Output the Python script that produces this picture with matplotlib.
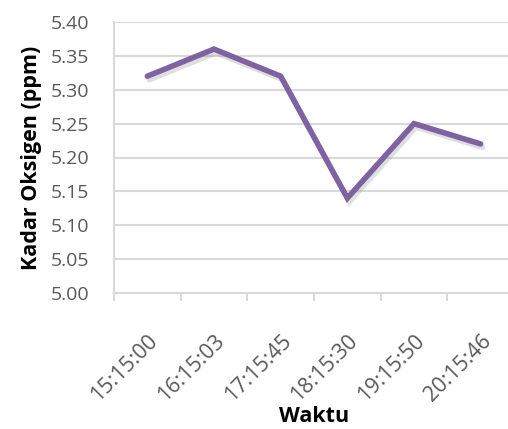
import matplotlib
matplotlib.use("Agg")
import matplotlib.pyplot as plt
import matplotlib.patheffects as pe

# data
waktu = ["15:15:00", "16:15:03", "17:15:45", "18:15:30", "19:15:50", "20:15:46"]
kadar_oksigen = [5.32, 5.36, 5.32, 5.14, 5.25, 5.22]
y_ticks = [5.00, 5.05, 5.10, 5.15, 5.20, 5.25, 5.30, 5.35, 5.40]

plt.rcParams['font.family'] = ['Open Sans', 'DejaVu Sans']

fig = plt.figure(figsize=(5.08, 4.29), dpi=100)
# plot area runs past the right edge, like the cropped original
ax = fig.add_axes([114 / 508, 1 - 293 / 429, 400 / 508, 271 / 429])

x = list(range(len(waktu)))
ax.plot(x, kadar_oksigen, color="#7E62A1", linewidth=4, solid_capstyle="round",
        solid_joinstyle="miter", zorder=3,
        path_effects=[pe.SimpleLineShadow(offset=(1.5, -2.5), shadow_color="gray", alpha=0.25),
                      pe.Normal()])

ax.set_xlim(-0.5, len(waktu) - 0.5)
ax.set_ylim(5.00, 5.40)
ax.set_yticks(y_ticks)
ax.set_yticklabels([f"{v:.2f}" for v in y_ticks])
ax.yaxis.grid(True, color="#D9D9D9", linewidth=1.5)
ax.set_axisbelow(True)

# category boundary ticks on the x axis
ax.set_xticks([i - 0.5 for i in x], minor=True)
ax.set_xticks(x)
ax.set_xticklabels(waktu, rotation=45, ha="right", rotation_mode="anchor")
ax.tick_params(axis="x", which="major", length=0, pad=27, labelsize=15.5, labelcolor="#595959")
ax.tick_params(axis="x", which="minor", length=6, width=1.5, color="#D9D9D9")
ax.tick_params(axis="y", length=0, pad=18, labelsize=14, labelcolor="#595959")

for s in ["top", "right"]:
    ax.spines[s].set_visible(False)
for s in ["left", "bottom"]:
    ax.spines[s].set_color("#D9D9D9")
    ax.spines[s].set_linewidth(1.5)

ax.set_ylabel("Kadar Oksigen (ppm)", fontsize=15.5, fontweight="bold", labelpad=6)
ax.set_xlabel("Waktu", fontsize=15.5, fontweight="bold", labelpad=0)

fig.savefig("out.png", dpi=100)
